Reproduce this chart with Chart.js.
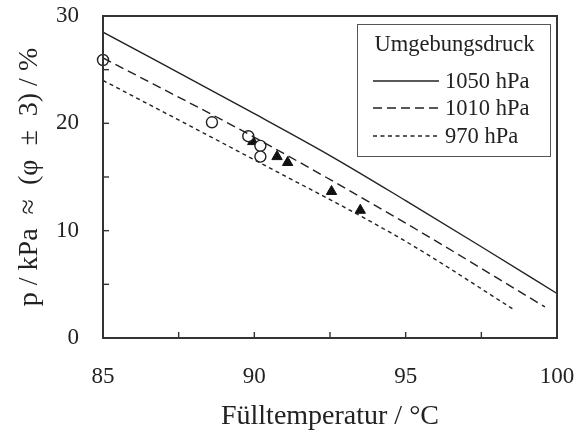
<!DOCTYPE html>
<html>
<head>
<meta charset="utf-8">
<script src="https://cdn.jsdelivr.net/npm/chart.js@4.4.1/dist/chart.umd.min.js"></script>
<style>
  body { margin: 0; background: #fff; }
  #wrap { width: 575px; height: 439px; }
</style>
</head>
<body>
<div id="wrap"><canvas id="druckChart" width="575" height="439"></canvas></div>
<script>
// Fülltemperatur-Stützstellen der Kurven und Drücke je Umgebungsdruck
const temps1050 = [85, 90, 92.5, 95, 97.5, 100];
const druck1050 = [28.5, 20.9, 17.0, 12.8, 8.5, 4.15];
const temps1010 = [85, 90, 95, 99.6];
const druck1010 = [26.1, 18.7, 10.7, 2.9];
const temps970 = [85, 90, 95, 98.6];
const druck970 = [24.0, 16.6, 9.0, 2.6];

// Messpunkte
const kreisTemps = [85, 88.6, 89.8, 90.2, 90.2];
const kreisWerte = [25.9, 20.1, 18.8, 17.9, 16.9];
const dreieckTemps = [89.95, 90.75, 91.1, 92.55, 93.5];
const dreieckWerte = [18.3, 16.9, 16.35, 13.65, 11.9];

const xTicks = [85, 90, 95, 100];
const yTicks = [0, 10, 20, 30];
const legendTitel = 'Umgebungsdruck';
const legendLabels = ['1050 hPa', '1010 hPa', '970 hPa'];

const schrift = "'Liberation Serif', 'DejaVu Serif', serif";
const ink = '#222';

function punkte(xs, ys) {
  return xs.map((x, i) => ({ x: x, y: ys[i] }));
}

function linie(label, xs, ys, dash) {
  return {
    label: label,
    data: punkte(xs, ys),
    showLine: true,
    borderColor: ink,
    borderWidth: 1.4,
    borderDash: dash,
    pointRadius: 0,
    cubicInterpolationMode: 'monotone',
    fill: false
  };
}

// Rahmen, nach innen zeigende Ticks und Legende
const rahmenPlugin = {
  id: 'rahmen',
  afterDraw(chart) {
    const { ctx, chartArea: a, scales } = chart;
    ctx.save();
    ctx.strokeStyle = '#333';
    ctx.lineWidth = 1.4;
    scales.x.ticks.forEach(t => {
      const px = scales.x.getPixelForValue(t.value);
      ctx.beginPath();
      ctx.moveTo(px, a.bottom);
      ctx.lineTo(px, a.bottom - 6);
      ctx.stroke();
    });
    scales.y.ticks.forEach(t => {
      const py = scales.y.getPixelForValue(t.value);
      ctx.beginPath();
      ctx.moveTo(a.left, py);
      ctx.lineTo(a.left + 6, py);
      ctx.stroke();
    });
    ctx.lineWidth = 2;
    ctx.strokeRect(a.left, a.top, a.right - a.left, a.bottom - a.top);

    // Legende oben rechts
    const bx = 357, by = 24, bw = 193, bh = 132;
    ctx.fillStyle = '#fff';
    ctx.fillRect(bx, by, bw, bh);
    ctx.strokeStyle = '#555';
    ctx.lineWidth = 1;
    ctx.strokeRect(bx + 0.5, by + 0.5, bw, bh);
    ctx.fillStyle = ink;
    ctx.font = '22.5px ' + schrift;
    ctx.textBaseline = 'middle';
    ctx.textAlign = 'center';
    ctx.fillText(legendTitel, bx + bw / 2 + 1, by + 21);
    ctx.textAlign = 'left';
    const zeilen = [81, 108, 136];
    chart.data.datasets.slice(0, 3).forEach((ds, i) => {
      ctx.strokeStyle = ink;
      ctx.lineWidth = 1.4;
      ctx.setLineDash(ds.borderDash || []);
      ctx.beginPath();
      ctx.moveTo(373, zeilen[i]);
      ctx.lineTo(439, zeilen[i]);
      ctx.stroke();
      ctx.setLineDash([]);
      ctx.fillText(legendLabels[i], 445, zeilen[i] + 1);
    });
    ctx.restore();
  }
};

new Chart(document.getElementById('druckChart'), {
  type: 'scatter',
  data: {
    datasets: [
      linie(legendLabels[0], temps1050, druck1050, []),
      linie(legendLabels[1], temps1010, druck1010, [9, 5]),
      linie(legendLabels[2], temps970, druck970, [4, 3.5]),
      {
        label: 'Kreise',
        data: punkte(kreisTemps, kreisWerte),
        pointStyle: 'circle',
        pointRadius: 5.5,
        backgroundColor: '#fff',
        borderColor: ink,
        borderWidth: 1.4,
        clip: false
      },
      {
        label: 'Dreiecke',
        data: punkte(dreieckTemps, dreieckWerte),
        pointStyle: 'triangle',
        pointRadius: 6,
        backgroundColor: '#111',
        borderColor: '#111',
        borderWidth: 1,
        clip: false
      }
    ]
  },
  options: {
    responsive: false,
    animation: false,
    layout: { padding: { left: 0, right: 18, top: 16, bottom: 0 } },
    plugins: {
      legend: { display: false },
      tooltip: { enabled: false }
    },
    scales: {
      x: {
        type: 'linear',
        min: 85,
        max: 100,
        afterFit(scale) {
          scale.height = 101;
          scale.paddingLeft = 0;
          scale.paddingRight = 0;
        },
        grid: { display: false, drawTicks: false },
        border: { display: false },
        ticks: {
          stepSize: 2.5,
          autoSkip: false,
          maxRotation: 0,
          padding: 25,
          color: ink,
          font: { family: schrift, size: 23 },
          callback: v => (xTicks.includes(v) ? v : '')
        },
        title: {
          display: true,
          text: 'Fülltemperatur / °C',
          color: ink,
          font: { family: schrift, size: 28 },
          padding: { bottom: 6 }
        }
      },
      y: {
        type: 'linear',
        min: 0,
        max: 30,
        afterFit(scale) {
          scale.width = 103;
          scale.paddingTop = 0;
          scale.paddingBottom = 0;
        },
        grid: { display: false, drawTicks: false },
        border: { display: false },
        ticks: {
          stepSize: 5,
          autoSkip: false,
          padding: 24,
          color: ink,
          font: { family: schrift, size: 23 },
          callback: v => (yTicks.includes(v) ? v : '')
        },
        title: {
          display: true,
          text: 'p / kPa  ≈  (φ  ±  3) / %',
          color: ink,
          font: { family: schrift, size: 28 },
          padding: { top: 13 }
        }
      }
    }
  },
  plugins: [rahmenPlugin]
});
</script>
</body>
</html>
